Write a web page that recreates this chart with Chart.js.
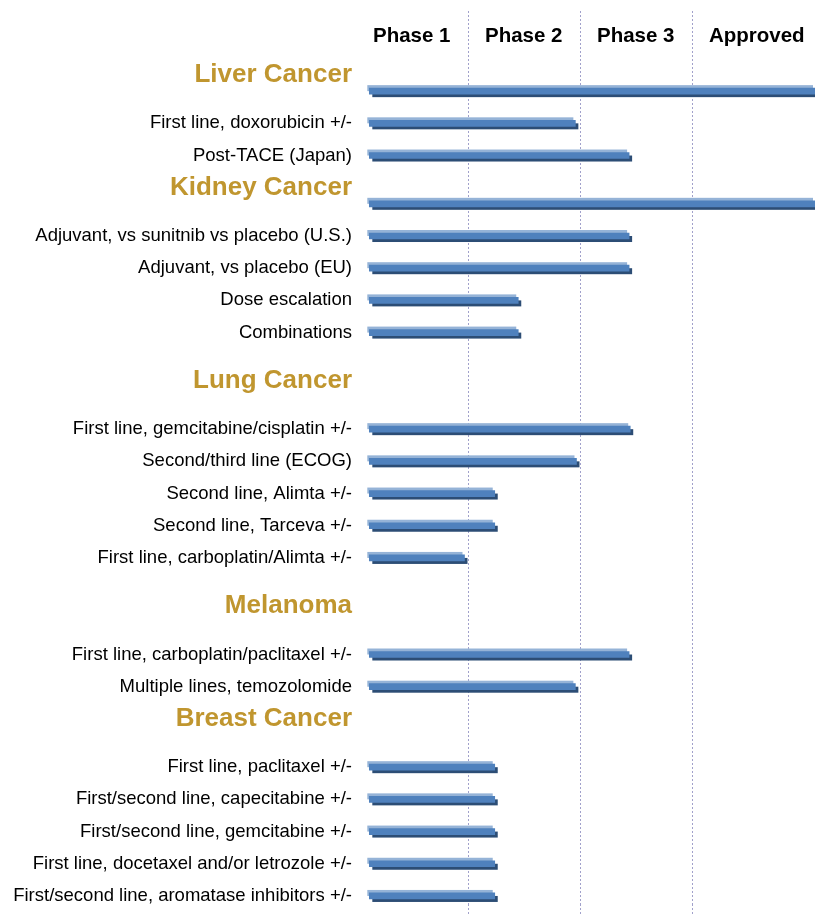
<!DOCTYPE html>
<html>
<head>
<meta charset="utf-8">
<script src="https://cdn.jsdelivr.net/npm/chart.js@4"></script>
<style>
  html, body { margin: 0; padding: 0; background: #ffffff; }
  canvas { display: block; }
</style>
</head>
<body>
<canvas id="c" width="815" height="916"></canvas>
<script>
// ---------- data ----------
const phaseLabels = ['Phase 1', 'Phase 2', 'Phase 3', 'Approved'];

const headers = ['Liver Cancer', 'Kidney Cancer', 'Lung Cancer', 'Melanoma', 'Breast Cancer'];

// rows ('' = spacer row)
const categories = [
  'Liver Cancer', '', '',
  'First line, doxorubicin +/-', '',
  'Post-TACE (Japan)', '',
  'Kidney Cancer', '', '',
  'Adjuvant, vs sunitnib vs placebo (U.S.)', '',
  'Adjuvant, vs placebo (EU)', '',
  'Dose escalation', '',
  'Combinations', '', '',
  'Lung Cancer', '', '',
  'First line, gemcitabine/cisplatin +/-', '',
  'Second/third line (ECOG)', '',
  'Second line, Alimta +/-', '',
  'Second line, Tarceva +/-', '',
  'First line, carboplatin/Alimta +/-', '', '',
  'Melanoma', '', '',
  'First line, carboplatin/paclitaxel +/-', '',
  'Multiple lines, temozolomide', '',
  'Breast Cancer', '', '',
  'First line, paclitaxel +/-', '',
  'First/second line, capecitabine +/-', '',
  'First/second line, gemcitabine +/-', '',
  'First line, docetaxel and/or letrozole +/-', '',
  'First/second line, aromatase inhibitors +/-'
];

// development stage reached (in phase units), aligned with categories
const stageReached = [
  null, 4.09, null,
  1.95, null,
  2.43, null,
  null, 4.09, null,
  2.43, null,
  2.43, null,
  1.44, null,
  1.44, null, null,
  null, null, null,
  2.44, null,
  1.96, null,
  1.23, null,
  1.23, null,
  0.96, null, null,
  null, null, null,
  2.43, null,
  1.95, null,
  null, null, null,
  1.23, null,
  1.23, null,
  1.23, null,
  1.23, null,
  1.23
];

const barStart = 0.11;
const axisMax = 4.09;

// ---------- styles ----------
const FONT = "'Liberation Sans', Arial, Helvetica, sans-serif";
const GOLD = '#C0962F';
const MID = '#4F81BD';
const LIGHT = '#95B3D7';
const DARK = '#2C4D75';
const GRID = 'rgba(130,130,185,0.75)';

const headerSet = new Set(headers);

const noPad = s => { s.paddingTop = 0; s.paddingBottom = 0; s.paddingLeft = 0; s.paddingRight = 0; };

const layered = {
  id: 'layered',
  beforeDatasetDraw(chart, args) {
    const ctx = chart.ctx;
    const raw = chart.data.datasets[args.index].data;
    ctx.save();
    args.meta.data.forEach((bar, i) => {
      if (raw[i] == null) return;
      const p = bar.getProps(['x', 'y', 'base', 'height'], true);
      const left = Math.min(p.x, p.base);
      const w = Math.abs(p.x - p.base);
      const top = p.y - p.height / 2;
      ctx.fillStyle = LIGHT;
      ctx.fillRect(left - 2, top - 3, w, p.height);
      ctx.fillStyle = DARK;
      ctx.fillRect(left + 3, top + 3, w, p.height);
    });
    ctx.restore();
  }
};

new Chart(document.getElementById('c'), {
  type: 'bar',
  data: {
    labels: categories,
    datasets: [{
      data: stageReached.map(v => v == null ? null : [barStart, v]),
      backgroundColor: MID,
      borderWidth: 0,
      barThickness: 6,
      xAxisID: 'x',
      yAxisID: 'y'
    }]
  },
  options: {
    indexAxis: 'y',
    responsive: false,
    animation: false,
    layout: { padding: 0 },
    plugins: { legend: { display: false }, tooltip: { enabled: false } },
    scales: {
      x: {
        type: 'linear',
        position: 'bottom',
        min: 0,
        max: axisMax,
        afterBuildTicks: s => { s.ticks = [1, 2, 3].map(v => ({ value: v })); },
        afterFit: s => { s.height = 12; noPad(s); },
        ticks: { display: false },
        border: { display: false, dash: [2, 2] },
        grid: {
          drawOnChartArea: false,
          drawTicks: true,
          tickLength: 12,
          color: GRID,
          tickColor: GRID,
          tickBorderDash: [2, 2],
          lineWidth: 1
        }
      },
      x2: {
        type: 'linear',
        position: 'top',
        min: 0,
        max: axisMax,
        afterBuildTicks: s => { s.ticks = [0, 1, 2, 3].map(v => ({ value: v })); },
        afterFit: s => { s.height = 67; noPad(s); },
        ticks: {
          callback: (v, i) => phaseLabels[i],
          align: 'start',
          labelOffset: 16,
          padding: -38,
          maxRotation: 0,
          minRotation: 0,
          autoSkip: false,
          color: '#000000',
          font: { family: FONT, size: 20.5, weight: 'bold' }
        },
        border: { display: false, dash: [2, 2] },
        grid: {
          drawOnChartArea: true,
          drawTicks: true,
          tickLength: 56,
          color: c => c.index === 0 ? 'rgba(0,0,0,0)' : GRID,
          tickColor: c => c.index === 0 ? 'rgba(0,0,0,0)' : GRID,
          tickBorderDash: [2, 2],
          lineWidth: 1
        }
      },
      y: {
        type: 'category',
        position: 'left',
        afterFit: s => { s.width = 357; noPad(s); },
        border: { display: false },
        grid: { display: false, drawTicks: false },
        ticks: {
          autoSkip: false,
          padding: 5,
          color: c => headerSet.has(c.tick && c.tick.label) ? GOLD : '#000000',
          font: c => headerSet.has(c.tick && c.tick.label)
            ? { family: FONT, size: 26, weight: 'bold' }
            : { family: FONT, size: 18.5, weight: 'normal' }
        }
      }
    }
  },
  plugins: [layered]
});
</script>
</body>
</html>
